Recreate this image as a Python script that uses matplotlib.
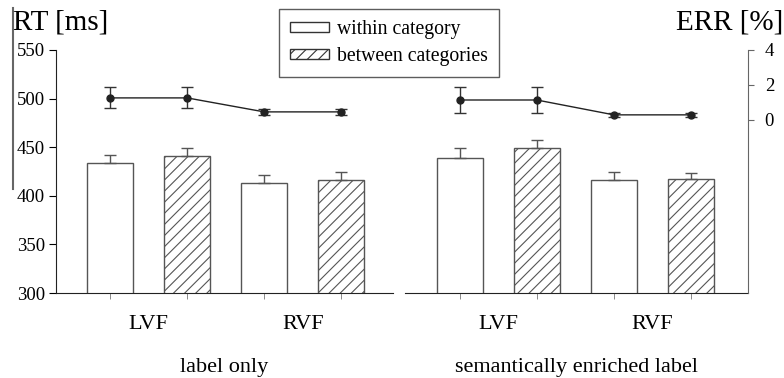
import matplotlib.pyplot as plt
import matplotlib.patches as mpatches
from matplotlib.lines import Line2D
import numpy as np

plt.rcParams['font.family'] = ['Liberation Serif', 'DejaVu Serif']
plt.rcParams['hatch.linewidth'] = 0.8

# reaction times (ms) per panel: LVF within, LVF between, RVF within, RVF between
rt_label = [434, 441, 413, 416]
rt_label_err = [8, 8, 8, 8.5]
rt_sem = [439, 449, 416, 417]
rt_sem_err = [10, 8, 8.5, 6.5]

# error rates (%) per panel
err_label = [1.26, 1.26, 0.46, 0.46]
err_label_sd = [0.6, 0.6, 0.17, 0.17]
err_sem = [1.14, 1.14, 0.29, 0.29]
err_sem_sd = [0.77, 0.77, 0.12, 0.12]

fields = ["LVF", "RVF"]
conditions = ["within category", "between categories"]
panel_titles = ["label only", "semantically enriched label"]

fig = plt.figure(figsize=(7.84, 3.78), dpi=100)
ax1 = fig.add_axes([56 / 784, 85 / 378, 337 / 784, 243 / 378])
ax2 = fig.add_axes([405 / 784, 85 / 378, 343 / 784, 243 / 378])

x = np.arange(4)
edge = '#555555'
for ax, rt, rt_e, er, er_sd, title, xlim in [
        (ax1, rt_label, rt_label_err, err_label, err_label_sd, panel_titles[0], (-0.70, 3.67)),
        (ax2, rt_sem, rt_sem_err, err_sem, err_sem_sd, panel_titles[1], (-0.71, 3.74))]:
    hatches = ['', '///', '', '///']
    for i in range(4):
        ax.bar(x[i], rt[i], width=0.6, bottom=0, color='white', edgecolor=edge,
               linewidth=1.0, hatch=hatches[i], zorder=2)
        ax.errorbar(x[i], rt[i], yerr=[[0], [rt_e[i]]], fmt='none', ecolor=edge,
                    elinewidth=1.0, capsize=4, capthick=1.0, zorder=3)
    ax.set_ylim(300, 550)
    ax.set_xlim(*xlim)
    ax.spines['top'].set_visible(False)
    ax.spines['right'].set_visible(False)
    ax.spines['bottom'].set_color('#222222')
    ax.set_xticks([0.5, 2.5])
    ax.set_xticklabels(fields, fontsize=16)
    ax.tick_params(axis='x', which='major', length=0, pad=16)
    ax.set_xticks(x, minor=True)
    ax.tick_params(axis='x', which='minor', length=4, color='#777777')
    ax.set_xlabel(title, fontsize=16, labelpad=17)

    # error rate line on a shared secondary scale
    tw = ax.twinx()
    tw.set_ylim(-9.9, 4)
    tw.errorbar(x, er, yerr=er_sd, fmt='-o', color='#222222', ms=5, lw=1.0,
                ecolor='#333333', elinewidth=1.0, capsize=4, capthick=1.0, zorder=4)
    for s in ['top', 'left', 'bottom']:
        tw.spines[s].set_visible(False)
    tw.set_xlim(*xlim)
    if ax is ax1:
        tw.spines['right'].set_visible(False)
        tw.set_yticks([])
    else:
        tw.spines['right'].set_color('#666666')
        tw.set_yticks([0, 2, 4])
        tw.tick_params(axis='y', labelsize=13.5, length=4, color='#666666', pad=8)

ax1.set_yticks([300, 350, 400, 450, 500, 550])
ax1.tick_params(axis='y', labelsize=13.5, length=5, pad=3)
ax1.spines['left'].set_color('#222222')
ax2.spines['left'].set_visible(False)
ax2.set_yticks([])

fig.text(13 / 784, 1 - 29 / 378, "RT [ms]", fontsize=21, ha='left', va='baseline')
fig.text(783 / 784, 1 - 29 / 378, "ERR [%]", fontsize=21, ha='right', va='baseline')

# vertical rule at the far left
fig.add_artist(Line2D([13 / 784, 13 / 784], [1 - 8 / 378, 1 - 189 / 378],
                      color='#666666', lw=1.5, transform=fig.transFigure))

handles = [mpatches.Patch(facecolor='white', edgecolor='#333333', lw=1.0, hatch=''),
           mpatches.Patch(facecolor='white', edgecolor='#333333', lw=1.0, hatch='///')]
leg = fig.legend(handles, conditions, loc='upper left',
                 bbox_to_anchor=(279 / 784, 1 - 9 / 378), fontsize=14.2,
                 frameon=True, fancybox=False, edgecolor='#333333',
                 handlelength=2.0, handleheight=0.4, handletextpad=0.4,
                 borderpad=0.55, labelspacing=0.4, borderaxespad=0)
leg.get_frame().set_linewidth(1.0)

fig.savefig("out.png", dpi=100)
